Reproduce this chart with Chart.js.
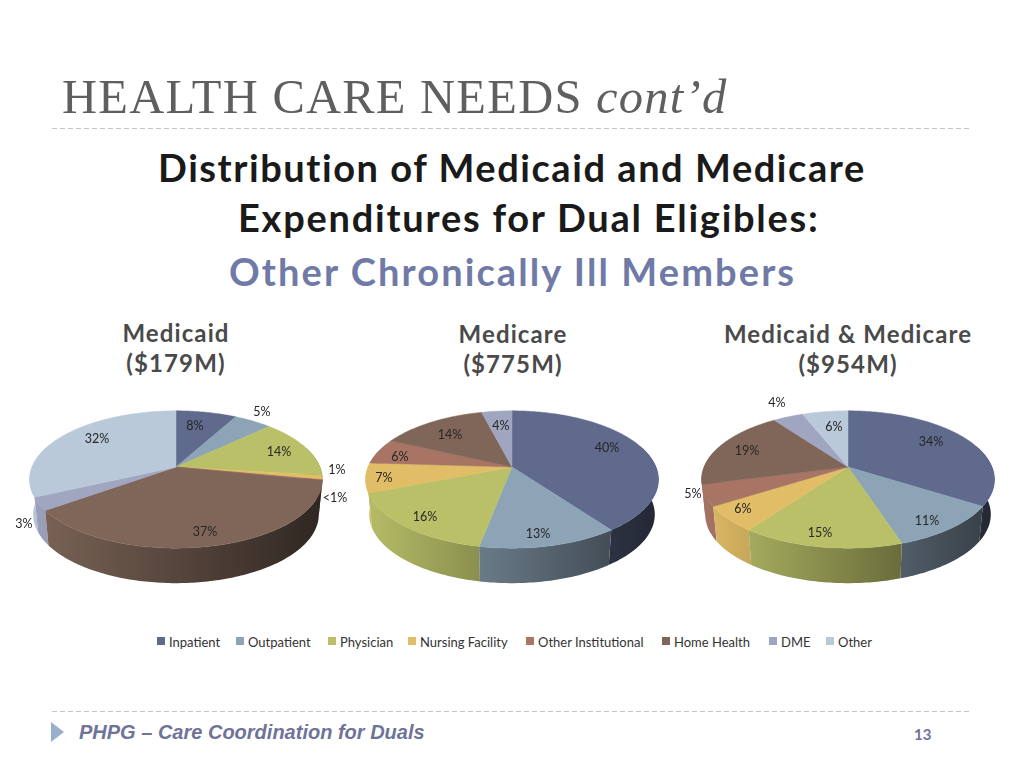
<!DOCTYPE html>
<html>
<head>
<meta charset="utf-8">
<title>Health Care Needs</title>
<script src="https://cdn.jsdelivr.net/npm/chart.js@4"></script>
<style>
  html, body { margin: 0; padding: 0; background: #fff; }
  #page { position: relative; width: 1024px; height: 768px; overflow: hidden; }
  #page canvas { position: absolute; top: 323px; }
  .t { position: absolute; white-space: nowrap; }
  .title { left: 62px; top: 69px; font: 48.5px/56px "Liberation Serif", serif; letter-spacing: 1.25px; color: #5f5f5f; }
  .head { font: bold 38px/44px Lato, sans-serif; color: #1a1a1a; }
  .sub { font: bold 38px/44px Lato, sans-serif; letter-spacing: 2.1px; color: #6f7aa6; }
  .pie-head { font: bold 24px/30px Lato, sans-serif; letter-spacing: 1.1px; color: #4a4a4a; text-align: center; transform: translateX(-50%); }
  .rule { position: absolute; left: 52px; width: 920px; height: 1px; background: repeating-linear-gradient(90deg, #bcc6cf 0 5px, transparent 5px 8px); }
  .arrow { position: absolute; left: 51px; top: 722px; width: 0; height: 0; border-left: 13px solid #98b0cc; border-top: 10px solid transparent; border-bottom: 10px solid transparent; }
  .foot { left: 79px; top: 720px; font: italic bold 20px/24px "Liberation Sans", sans-serif; color: #6f7398; }
  .num { left: 914px; top: 725px; font: bold 15px/18px Lato, sans-serif; color: #6f7398; }
  .lg { position: absolute; top: 633px; font: 13px/18px Lato, sans-serif; color: #333; white-space: nowrap; }
  .sw { position: absolute; top: 637px; width: 8px; height: 8px; }
</style>
</head>
<body>
<div id="page">
  <div class="t title">HEALTH CARE NEEDS <i>cont’d</i></div>
  <div class="rule" style="top:128px"></div>
  <div class="t head" style="left:158px;top:145px;letter-spacing:1.55px">Distribution of Medicaid and Medicare</div>
  <div class="t head" style="left:238px;top:195px;letter-spacing:1.75px">Expenditures for Dual Eligibles:</div>
  <div class="t sub" style="left:229px;top:249px">Other Chronically Ill Members</div>
  <div class="t pie-head" style="left:176px;top:318px">Medicaid<br>($179M)</div>
  <div class="t pie-head" style="left:513px;top:319px">Medicare<br>($775M)</div>
  <div class="t pie-head" style="left:848px;top:319px">Medicaid &amp; Medicare<br>($954M)</div>
  <canvas id="pie1" width="352" height="288" style="left:0"></canvas>
  <canvas id="pie2" width="340" height="288" style="left:342px"></canvas>
  <canvas id="pie3" width="352" height="288" style="left:672px"></canvas>
  <div id="legend"></div>
  <div class="rule" style="top:711px"></div>
  <div class="arrow"></div>
  <div class="t foot">PHPG – Care Coordination for Duals</div>
  <div class="t num">13</div>
</div>
<script>
const categories = ['Inpatient', 'Outpatient', 'Physician', 'Nursing Facility', 'Other Institutional', 'Home Health', 'DME', 'Other'];
const medicaidValues = [8, 5, 14, 1, 0.2, 37, 3, 32];
const medicareValues = [40, 13, 16, 7, 6, 14, 4, 0];
const combinedValues = [34, 11, 15, 6, 5, 19, 4, 6];
const medicaidLabels = ['8%', '5%', '14%', '1%', '<1%', '37%', '3%', '32%'];
const medicareLabels = ['40%', '13%', '16%', '7%', '6%', '14%', '4%', ''];
const combinedLabels = ['34%', '11%', '15%', '6%', '5%', '19%', '4%', '6%'];

const colors = ['#5f6a8c', '#8da4b6', '#b9c068', '#e0bd66', '#a87565', '#7f6659', '#a0a5c0', '#b9c9da'];

// label centres, offset from the pie centre
const medicaidOffsets = [[19, -41], [86, -55], [103, -15], [161, 3], [159, 31], [29, 65], [-152, 57], [-79, -28]];
const medicareOffsets = [[95, -19], [26, 67], [-87, 50], [-128, 11], [-112, -10], [-62, -32], [-11, -41], [0, 0]];
const combinedOffsets = [[83, -25], [79, 54], [-28, 66], [-105, 42], [-155, 27], [-101, -16], [-71, -64], [-14, -40]];

// tilt of the disc: vertical squash, perspective, wall height, wall taper
const SQUASH = 0.461;
const PERSP = 0.182;
const DEPTH = 35;
const TAPER = 0.975;

function shade(hex, f) {
  const n = parseInt(hex.slice(1), 16);
  const r = Math.round(((n >> 16) & 255) * f);
  const g = Math.round(((n >> 8) & 255) * f);
  const b = Math.round((n & 255) * f);
  return `rgb(${r},${g},${b})`;
}

function project(el, a) {
  const u = Math.cos(a), v = Math.sin(a);
  const w = 1 - PERSP * v;
  return {
    x: el.x + el.outerRadius * u / w,
    y: el.y + el.outerRadius * SQUASH * v / w
  };
}

function rimPoints(el, from, to) {
  const step = Math.PI / 180;
  const pts = [];
  for (let a = from; a < to; a += step) pts.push(project(el, a));
  pts.push(project(el, to));
  return pts;
}

const tiltedPie = {
  id: 'tiltedPie',
  // reads the arcs chart.js laid out and draws them tilted, in place of the flat ones
  beforeDatasetsDraw(chart) {
    const ctx = chart.ctx;
    const arcs = chart.getDatasetMeta(0).data;

    // side wall, back to front; only the part of the rim facing the viewer
    const back = Math.asin(-0.3);
    const walls = [];
    arcs.forEach((el, i) => {
      const from = Math.max(el.startAngle, back);
      const to = Math.min(el.endAngle, Math.PI - back);
      if (to > from) walls.push({ el, i, from, to });
    });
    walls.sort((p, q) => Math.sin((p.from + p.to) / 2) - Math.sin((q.from + q.to) / 2));
    walls.forEach(s => {
      const el = s.el, R = el.outerRadius;
      const grad = ctx.createLinearGradient(el.x - R, 0, el.x + R, 0);
      grad.addColorStop(0, shade(colors[s.i], 0.98));
      grad.addColorStop(1, shade(colors[s.i], 0.38));
      const pts = rimPoints(el, s.from, s.to);
      ctx.beginPath();
      pts.forEach((p, n) => n ? ctx.lineTo(p.x, p.y) : ctx.moveTo(p.x, p.y));
      pts.reverse().forEach(p => ctx.lineTo(el.x + (p.x - el.x) * TAPER, p.y + DEPTH));
      ctx.closePath();
      ctx.fillStyle = grad;
      ctx.fill();
    });

    // top face
    arcs.forEach((el, i) => {
      if (el.circumference <= 0) return;
      ctx.beginPath();
      ctx.moveTo(el.x, el.y);
      rimPoints(el, el.startAngle, el.endAngle).forEach(p => ctx.lineTo(p.x, p.y));
      ctx.closePath();
      ctx.fillStyle = colors[i];
      ctx.strokeStyle = colors[i];
      ctx.lineWidth = 0.5;
      ctx.fill();
      ctx.stroke();
    });

    // percentage labels
    const opts = chart.options.plugins.tiltedPie;
    ctx.font = '12.5px Lato, sans-serif';
    ctx.fillStyle = '#262626';
    ctx.textAlign = 'center';
    ctx.textBaseline = 'middle';
    opts.labels.forEach((text, i) => {
      ctx.fillText(text, arcs[i].x + opts.offsets[i][0], arcs[i].y + opts.offsets[i][1]);
    });
    return false;
  }
};

function makePie(id, values, labels, offsets) {
  return new Chart(document.getElementById(id), {
    type: 'pie',
    data: {
      labels: categories,
      datasets: [{ data: values, backgroundColor: colors, borderWidth: 0, hoverOffset: 0 }]
    },
    options: {
      responsive: false,
      animation: false,
      events: [],
      plugins: {
        legend: { display: false },
        tooltip: { enabled: false },
        tiltedPie: { labels: labels, offsets: offsets }
      }
    },
    plugins: [tiltedPie]
  });
}

makePie('pie1', medicaidValues, medicaidLabels, medicaidOffsets);
makePie('pie2', medicareValues, medicareLabels, medicareOffsets);
makePie('pie3', combinedValues, combinedLabels, combinedOffsets);

// legend
const legendTextX = [169, 248, 340, 420, 538, 674, 781, 838];
const legend = document.getElementById('legend');
categories.forEach((name, i) => {
  const sw = document.createElement('div');
  sw.className = 'sw';
  sw.style.left = (legendTextX[i] - 12) + 'px';
  sw.style.background = colors[i];
  legend.appendChild(sw);
  const txt = document.createElement('div');
  txt.className = 'lg';
  txt.style.left = legendTextX[i] + 'px';
  txt.textContent = name;
  legend.appendChild(txt);
});
</script>
</body>
</html>
